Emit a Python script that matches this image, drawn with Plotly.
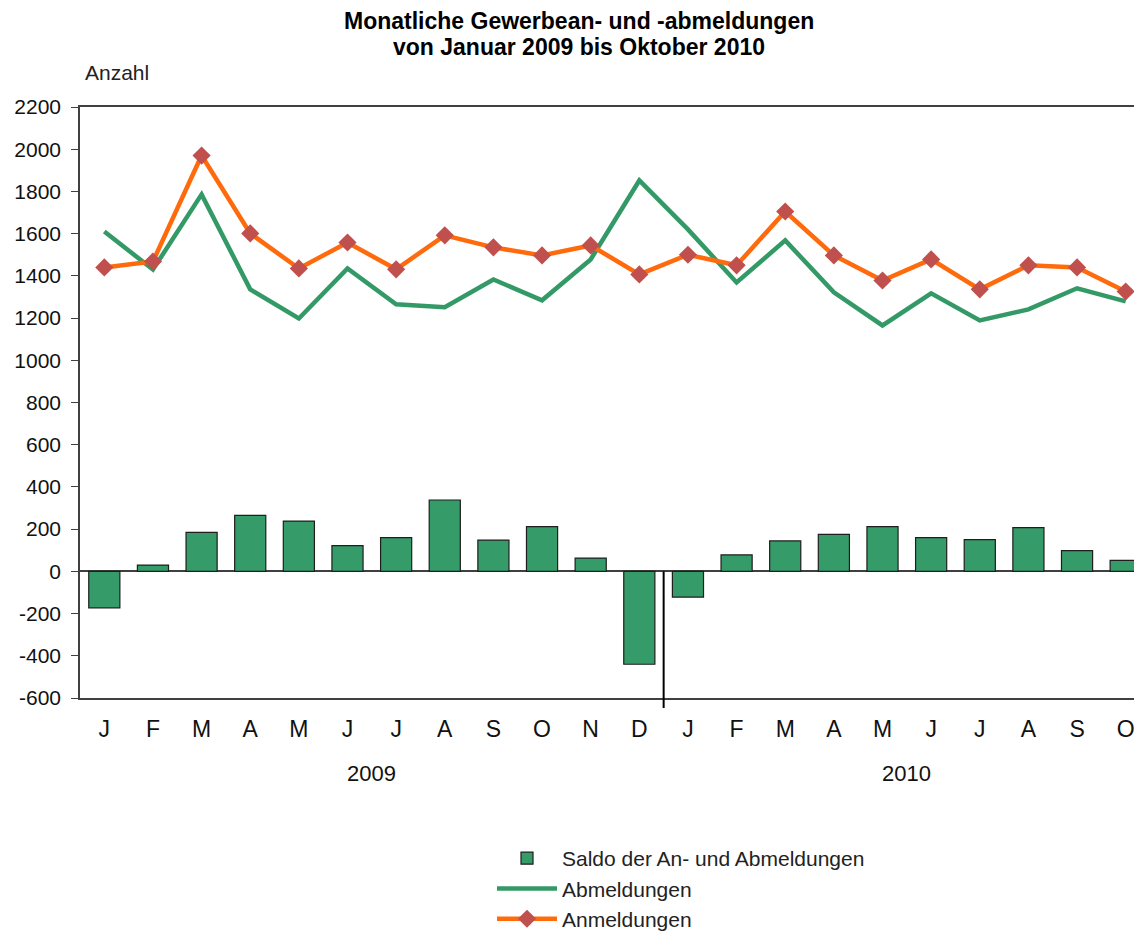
import plotly.graph_objects as go

months = ["J", "F", "M", "A", "M", "J", "J", "A", "S", "O", "N", "D",
          "J", "F", "M", "A", "M", "J", "J", "A", "S", "O"]
years = ["2009", "2010"]

anmeldungen = [1440, 1468, 1970, 1601, 1435, 1558, 1431, 1592, 1535, 1497, 1544, 1407,
               1500, 1450, 1705, 1497, 1378, 1478, 1336, 1450, 1440, 1326]
abmeldungen = [1610, 1430, 1786, 1336, 1198, 1435, 1265, 1251, 1383, 1284, 1478, 1852,
               1620, 1369, 1568, 1322, 1165, 1317, 1189, 1241, 1341, 1279]
saldo = [-173, 30, 185, 265, 238, 122, 160, 338, 148, 212, 63, -440,
         -122, 78, 144, 175, 212, 160, 150, 207, 98, 52]

y_ticks = list(range(-600, 2201, 200))
y_ticktext = [str(v) for v in y_ticks]

x = list(range(len(months)))
YMIN, YMAX = -600, 2200
FONT = "Liberation Sans, Arial, sans-serif"

# plot area geometry in figure pixels
W, H = 1142, 934
ML, MR, MT, MB = 72, 0, 99, 244
PW = W - ML - MR
PH = H - MT - MB


def px_x(xfig):
    return (xfig - ML) / PW


def px_y(yfig):
    return (H - MB - yfig) / PH


fig = go.Figure()
fig.add_trace(go.Bar(
    x=x, y=saldo, name="Saldo der An- und Abmeldungen",
    marker=dict(color="#359b68", line=dict(color="#1e1e1e", width=1.2)),
    width=0.64,
))
fig.add_trace(go.Scatter(
    x=x, y=abmeldungen, name="Abmeldungen", mode="lines",
    line=dict(color="#339966", width=4.5),
))
fig.add_trace(go.Scatter(
    x=x, y=anmeldungen, name="Anmeldungen", mode="lines+markers",
    line=dict(color="#ff6a0d", width=4.5),
    marker=dict(symbol="diamond", size=14, color="#c0504d"),
))

zero_paper = (0 - YMIN) / (YMAX - YMIN)
fig.add_shape(type="line", xref="x", yref="paper", x0=11.5, x1=11.5,
              y0=zero_paper, y1=-10 / PH, line=dict(color="#000", width=2))

for yr, xc in zip(years, [5.5, 16.5]):
    fig.add_annotation(text=yr, x=xc, xref="x", y=-75 / PH, yref="paper",
                       xanchor="center", yanchor="middle", showarrow=False,
                       font=dict(size=22, color="#111", family=FONT))

fig.add_annotation(text="Anzahl", x=px_x(75), xref="paper", y=px_y(65), yref="paper",
                   xanchor="left", yanchor="middle", showarrow=False,
                   font=dict(size=21, color="#222", family=FONT))

title_lines = ["Monatliche Gewerbean- und -abmeldungen", "von Januar 2009 bis Oktober 2010"]
for line, yf in zip(title_lines, [13, 39]):
    fig.add_annotation(text="<b>" + line + "</b>", x=px_x(571), xref="paper",
                       y=px_y(yf), yref="paper", xanchor="center", yanchor="middle",
                       showarrow=False, font=dict(size=23, color="#000", family=FONT))

fig.update_layout(
    width=W, height=H,
    margin=dict(l=ML, r=MR, t=MT, b=MB),
    paper_bgcolor="white", plot_bgcolor="white",
    font=dict(family=FONT, size=21, color="#111"),
    showlegend=True,
    legend=dict(
        x=px_x(484), xanchor="left", xref="paper",
        y=px_y(830), yanchor="top", yref="paper",
        font=dict(size=21, color="#222", family=FONT),
        itemwidth=60, traceorder="normal", bgcolor="rgba(0,0,0,0)",
    ),
    xaxis=dict(
        tickmode="array", tickvals=x, ticktext=months,
        range=[-0.5, 21.5], showgrid=False, zeroline=False,
        showline=True, mirror=True, linecolor="#404040", linewidth=1.5,
        ticks="", ticklabelstandoff=10,
        tickfont=dict(size=23, color="#111"),
    ),
    yaxis=dict(
        range=[YMIN, YMAX], tickmode="array", tickvals=y_ticks, ticktext=y_ticktext,
        showgrid=False,
        zeroline=True, zerolinecolor="#404040", zerolinewidth=1.5,
        showline=True, linecolor="#404040", linewidth=1.5,
        ticks="outside", ticklen=7, tickcolor="#404040", tickwidth=1.2,
        ticklabelstandoff=6,
        tickfont=dict(size=21, color="#111"),
    ),
)

fig.write_html("out.html")
